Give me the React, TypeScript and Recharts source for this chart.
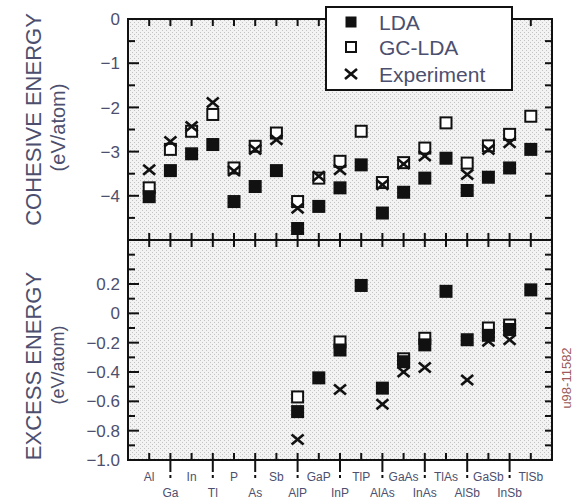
import { CartesianGrid, Legend, ReferenceArea, Scatter, ScatterChart, XAxis, YAxis } from "recharts";

const elements = ["Al", "Ga", "In", "Tl", "P", "As", "Sb", "AlP", "GaP", "InP", "TlP", "AlAs", "GaAs", "InAs", "TlAs", "AlSb", "GaSb", "InSb", "TlSb"];

// cohesive energy, eV/atom
const cohesiveLda = [-4.02, -3.43, -3.05, -2.84, -4.13, -3.79, -3.43, -4.74, -4.24, -3.82, -3.3, -4.39, -3.92, -3.6, -3.15, -3.88, -3.58, -3.37, -2.95];
const cohesiveGc = [-3.82, -2.95, -2.54, -2.16, -3.37, -2.88, -2.58, -4.13, -3.6, -3.22, -2.54, -3.7, -3.25, -2.92, -2.35, -3.26, -2.87, -2.61, -2.2];
const cohesiveExp = [-3.41, -2.77, -2.43, -1.89, -3.44, -2.95, -2.73, -4.28, -3.56, -3.41, null, -3.75, -3.28, -3.1, null, -3.52, -2.95, -2.8, null];

// excess energy, eV/atom (compounds only)
const excessLda = [null, null, null, null, null, null, null, -0.67, -0.44, -0.25, 0.19, -0.51, -0.33, -0.215, 0.15, -0.18, -0.15, -0.11, 0.16];
const excessGc = [null, null, null, null, null, null, null, -0.57, null, -0.195, null, null, -0.31, -0.17, null, null, -0.1, -0.08, null];
const excessExp = [null, null, null, null, null, null, null, -0.86, null, -0.52, null, -0.62, -0.4, -0.37, null, -0.455, -0.19, -0.18, null];

const xTicks = elements.map((_, i) => i + 1);
const cohesiveTicks = [-5, -4.5, -4, -3.5, -3, -2.5, -2, -1.5, -1, -0.5, 0];
const excessTicks = [-1, -0.9, -0.8, -0.7, -0.6, -0.5, -0.4, -0.3, -0.2, -0.1, 0, 0.1, 0.2, 0.3, 0.4];

const INK = "#111";
const TEXT = "#4d4f6e";
const FONT = "'Liberation Sans', Arial, sans-serif";
const W = 574;
const X_DOMAIN = [0, 20];

const toPoints = (values: (number | null)[]) =>
  values.flatMap((v, i) => (v == null ? [] : [{ x: i + 1, y: v }]));

function FilledSquare({ cx, cy, side }: any) {
  const s = side ?? 13;
  return <rect x={cx - s / 2} y={cy - s / 2} width={s} height={s} fill={INK} />;
}

function OpenSquare({ cx, cy, side }: any) {
  const s = side ?? 11;
  return <rect x={cx - s / 2} y={cy - s / 2} width={s} height={s} fill="#fff" stroke={INK} strokeWidth={2} />;
}

function Cross({ cx, cy }: any) {
  return (
    <g stroke={INK} strokeWidth={2.6}>
      <line x1={cx - 6} y1={cy - 5} x2={cx + 6} y2={cy + 5} />
      <line x1={cx - 6} y1={cy + 5} x2={cx + 6} y2={cy - 5} />
    </g>
  );
}

// inward tick marks, drawn as scatter marks sitting on the frame
const LeftMark = ({ cx, cy, payload }: any) => <path d={`M${cx},${cy}h${payload.major ? 11 : 7}`} stroke={INK} strokeWidth={2} />;
const RightMark = ({ cx, cy }: any) => <path d={`M${cx},${cy}h-7`} stroke={INK} strokeWidth={2} />;
const TopMark = ({ cx, cy }: any) => <path d={`M${cx},${cy}v7`} stroke={INK} strokeWidth={2} />;
const BottomMark = ({ cx, cy }: any) => <path d={`M${cx},${cy}v-7`} stroke={INK} strokeWidth={2} />;

const fmtCohesive = (v: number) => (Number.isInteger(v) && v > -5 ? (v === 0 ? "0" : "\u2212" + Math.abs(v)) : null);
const fmtExcess = (v: number) => {
  const tenths = Math.round(v * 10);
  if (tenths % 2 !== 0 || tenths > 2) return null;
  if (tenths === 0) return "0";
  return (v < 0 ? "\u2212" : "") + Math.abs(v).toFixed(1);
};

const NoLabel = () => <g />;

function LeftLabel({ x, y, payload, format }: any) {
  const label = format(payload.value);
  if (!label) return <g />;
  return (
    <text x={x - 8} y={y} dy="0.36em" textAnchor="end" fontSize={17} fill={TEXT} fontFamily={FONT}>
      {label}
    </text>
  );
}

function BottomLabel({ x, y, payload }: any) {
  const idx = payload.value - 1;
  const lower = idx % 2 === 1;
  return (
    <g>
      {lower ? <path d={`M${x},${y}v12M${x},${y + 15}v3`} stroke={INK} strokeWidth={2} fill="none" /> : null}
      <text x={x} y={y + (lower ? 37 : 21)} textAnchor="middle" fontSize={12} fill={TEXT} fontFamily={FONT}>
        {elements[idx]}
      </text>
    </g>
  );
}

function AxisTitle({ viewBox, title, unit, titleDy, unitDy, unitSize }: any) {
  const cy = viewBox.y + viewBox.height / 2;
  const tx = viewBox.x - 35;
  const ux = viewBox.x - 10;
  return (
    <g fontFamily={FONT} fill={TEXT}>
      <text x={tx} y={cy + titleDy} transform={`rotate(-90 ${tx} ${cy + titleDy})`} textAnchor="middle" dy="0.36em" fontSize={22}>
        {title}
      </text>
      <text x={ux} y={cy + unitDy} transform={`rotate(-90 ${ux} ${cy + unitDy})`} textAnchor="middle" dy="0.36em" fontSize={unitSize}>
        {unit}
      </text>
    </g>
  );
}

function LegendBox() {
  const rows = [
    { label: "LDA", mark: <FilledSquare cx={26} cy={16} side={11} /> },
    { label: "GC-LDA", mark: <OpenSquare cx={26} cy={41} side={10} /> },
    { label: "Experiment", mark: <Cross cx={26} cy={68} /> },
  ];
  return (
    <svg width={188} height={85} style={{ display: "block" }}>
      <rect x={1} y={1} width={186} height={83} fill="#fff" stroke={INK} strokeWidth={2} />
      {rows.map((r, i) => (
        <g key={r.label}>
          {r.mark}
          <text x={54} y={[16, 41, 68][i]} dy="0.36em" fontSize={21} fill={TEXT} fontFamily={FONT}>
            {r.label}
          </text>
        </g>
      ))}
    </svg>
  );
}

// "back" draws only the halftone plot background with the same layout;
// "front" draws ticks, frame, marks and text on a transparent surface above it.
function PanelLayer({ layer, height, margin, domain, yTicks, format, lda, gc, exp, showLabels, axisHeight, title, unit, titleDy, unitDy, unitSize, legend }: any) {
  const back = layer === "back";
  const leftTicks = yTicks.map((v: number) => ({ x: X_DOMAIN[0], y: v, major: format(v) != null }));
  const rightTicks = yTicks.map((v: number) => ({ x: X_DOMAIN[1], y: v }));
  const topTicks = xTicks.map((v) => ({ x: v, y: domain[1] }));
  const bottomTicks = xTicks.map((v) => ({ x: v, y: domain[0] }));
  return (
    <ScatterChart width={W} height={height} margin={margin}>
      {back ? <CartesianGrid horizontal={false} vertical={false} fill="url(#halftone)" fillOpacity={1} /> : null}
      <XAxis
        type="number"
        dataKey="x"
        domain={X_DOMAIN}
        ticks={xTicks}
        interval={0}
        height={axisHeight}
        axisLine={false}
        tickLine={false}
        tickSize={0}
        tickMargin={0}
        tick={back ? false : showLabels ? BottomLabel : NoLabel}
      />
      <YAxis
        type="number"
        dataKey="y"
        domain={domain}
        ticks={yTicks}
        interval={0}
        width={60}
        axisLine={false}
        tickLine={false}
        tickSize={0}
        tickMargin={0}
        tick={back ? false : (p: any) => <LeftLabel {...p} format={format} />}
        label={back ? undefined : { content: (p: any) => <AxisTitle {...p} title={title} unit={unit} titleDy={titleDy} unitDy={unitDy} unitSize={unitSize} /> }}
      />
      {back ? null : <ReferenceArea x1={X_DOMAIN[0]} x2={X_DOMAIN[1]} y1={domain[0]} y2={domain[1]} fill="none" stroke={INK} strokeWidth={2} />}
      {back ? null : <Scatter name="left ticks" data={leftTicks} shape={LeftMark} legendType="none" isAnimationActive={false} />}
      {back ? null : <Scatter name="right ticks" data={rightTicks} shape={RightMark} legendType="none" isAnimationActive={false} />}
      {back ? null : <Scatter name="top ticks" data={topTicks} shape={TopMark} legendType="none" isAnimationActive={false} />}
      {back ? null : <Scatter name="bottom ticks" data={bottomTicks} shape={BottomMark} legendType="none" isAnimationActive={false} />}
      {back ? null : <Scatter name="GC-LDA" data={toPoints(gc)} shape={OpenSquare} isAnimationActive={false} />}
      {back ? null : <Scatter name="LDA" data={toPoints(lda)} shape={FilledSquare} isAnimationActive={false} />}
      {back ? null : <Scatter name="Experiment" data={toPoints(exp)} shape={Cross} isAnimationActive={false} />}
      {!back && legend ? (
        <Legend layout="horizontal" verticalAlign="middle" align="center" content={() => <LegendBox />} wrapperStyle={{ left: 325, top: 6, width: 188, height: 85 }} />
      ) : null}
    </ScatterChart>
  );
}

function Panel({ top, ...props }: any) {
  return (
    <>
      <div style={{ position: "absolute", left: 0, top }}>
        <PanelLayer layer="back" {...props} />
      </div>
      <div style={{ position: "absolute", left: 0, top }}>
        <PanelLayer layer="front" {...props} />
      </div>
    </>
  );
}

export default function App() {
  return (
    <div style={{ position: "absolute", left: 0, top: 0, width: W, height: 500, background: "#fff", fontFamily: FONT }}>
      <svg width={0} height={0} style={{ position: "absolute" }}>
        <defs>
          <pattern id="halftone" width={4} height={4} patternUnits="userSpaceOnUse">
            <rect width={4} height={4} fill="#f3f3f3" />
            <rect x={0} y={0} width={1} height={1} fill="#c2c2c2" />
            <rect x={2} y={2} width={1} height={1} fill="#c2c2c2" />
          </pattern>
        </defs>
      </svg>
      <Panel
        top={0}
        height={240}
        margin={{ top: 19, right: 22, bottom: 0, left: 68 }}
        domain={[-5, 0]}
        yTicks={cohesiveTicks}
        format={fmtCohesive}
        lda={cohesiveLda}
        gc={cohesiveGc}
        exp={cohesiveExp}
        showLabels={false}
        axisHeight={0}
        title="COHESIVE ENERGY"
        unit="(eV/atom)"
        titleDy={-10}
        unitDy={-2}
        unitSize={20}
        legend
      />
      <Panel
        top={240}
        height={260}
        margin={{ top: 0, right: 22, bottom: 0, left: 68 }}
        domain={[-1, 0.5]}
        yTicks={excessTicks}
        format={fmtExcess}
        lda={excessLda}
        gc={excessGc}
        exp={excessExp}
        showLabels
        axisHeight={40}
        title="EXCESS ENERGY"
        unit="(eV/atom)"
        titleDy={16}
        unitDy={15}
        unitSize={18}
      />
      <div
        style={{
          position: "absolute",
          left: 566,
          top: 378,
          transform: "translate(-50%, -50%) rotate(-90deg)",
          fontSize: 13,
          color: "#9c5a5a",
          whiteSpace: "nowrap",
        }}
      >
        u98-11582
      </div>
    </div>
  );
}
